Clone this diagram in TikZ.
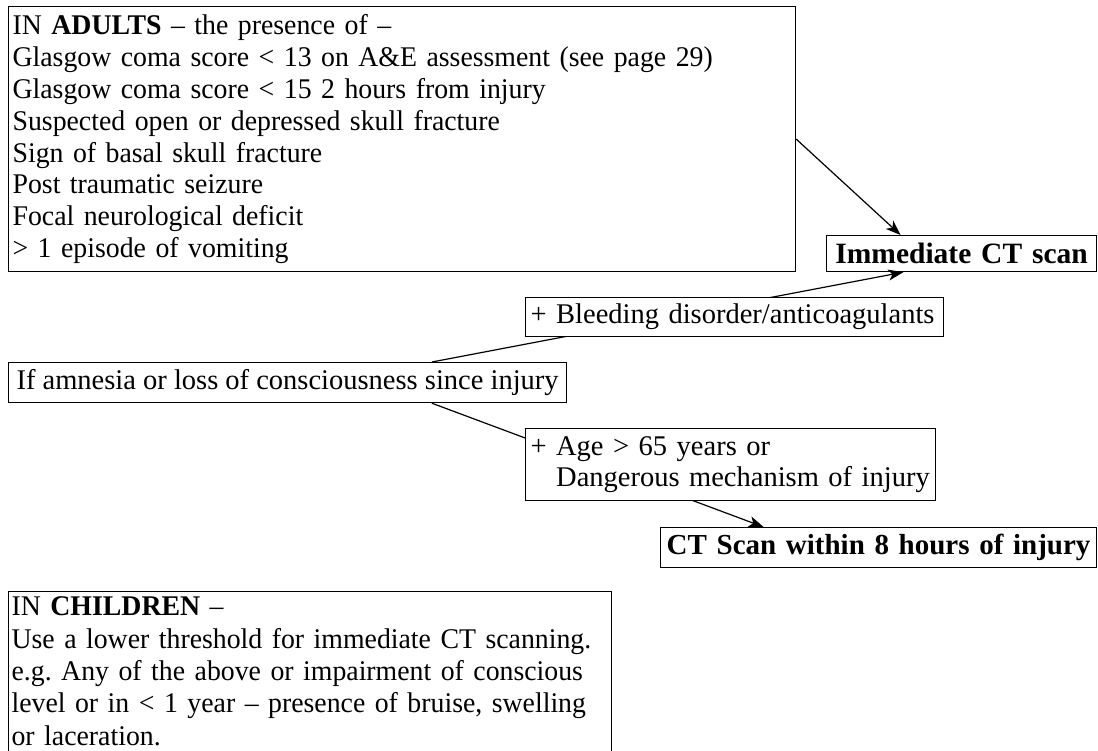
\documentclass[tikz,border=0pt]{standalone}
\usepackage{fontspec}
\setmainfont{Liberation Serif}
\newfontfamily\midserif[FakeStretch=0.975]{Liberation Serif}
\usetikzlibrary{arrows.meta,calc}
\frenchspacing
\hyphenpenalty=10000
\exhyphenpenalty=10000
\begin{document}
\begin{tikzpicture}[x=1pt,y=-1pt,
  box/.style={draw, line width=1.2pt, anchor=north west, align=left, inner xsep=5pt, inner ysep=3pt,
    font=\fontsize{28.5}{31.9}\selectfont, fill=white},
  mbox/.style={box, inner xsep=4pt, font=\midserif\fontsize{28.5}{31.9}\selectfont},
  cbox/.style={box, align=center},
  conn/.style={line width=1.2pt, -{Stealth[length=15pt,width=11pt,inset=4pt]}}]
\useasboundingbox (0,0) rectangle (1098,751);

\node[mbox, text width=779pt, minimum height=265pt] (adults) at (8,6) {%
IN \textbf{ADULTS} – the presence of –\\
Glasgow coma score < 13 on A\&E assessment (see page 29)\\
Glasgow coma score < 15 2 hours from injury\\
Suspected open or depressed skull fracture\\
Sign of basal skull fracture\\
Post traumatic seizure\\
Focal neurological deficit\\
> 1 episode of vomiting};

\node[cbox, text width=260pt, minimum height=36pt, font=\fontsize{29.5}{31.9}\selectfont] (imm) at (826,235) {\textbf{Immediate CT scan}};

\node[cbox, inner xsep=3pt, minimum width=558pt, minimum height=40pt] (amn) at (8,362) {If amnesia or loss of consciousness since injury};

\node[cbox, text width=426pt, minimum height=40pt, font=\fontsize{29}{31.9}\selectfont] (ct8) at (660,527) {\textbf{CT Scan within 8 hours of injury}};

\node[mbox, inner xsep=3pt, text width=597pt, inner ysep=0pt, minimum height=159.5pt, font=\midserif\fontsize{28.5}{32.3}\selectfont] (child) at (8,591) {%
IN \textbf{CHILDREN} –\\
Use a lower threshold for immediate CT scanning.\\
e.g. Any of the above or impairment of conscious\\
level or in < 1 year – presence of bruise, swelling\\
or laceration.};

\draw[conn] (adults.east) -- ($(imm.north west)!0.275!(imm.north east)$);
\draw[conn] ($(amn.north west)!0.758!(amn.north east)$) -- ($(imm.south west)!0.285!(imm.south east)$);
\draw[conn] ($(amn.south west)!0.758!(amn.south east)$) -- ($(ct8.north west)!0.237!(ct8.north east)$);

\node[box, text width=408pt, minimum height=39pt] (bleed) at (525,297) {+ Bleeding disorder/anticoagulants};

\node[box, text width=400pt, minimum height=72pt] (age) at (525,428) {+ Age > 65 years or\\\phantom{+\ }Dangerous mechanism of injury};

\end{tikzpicture}
\end{document}
